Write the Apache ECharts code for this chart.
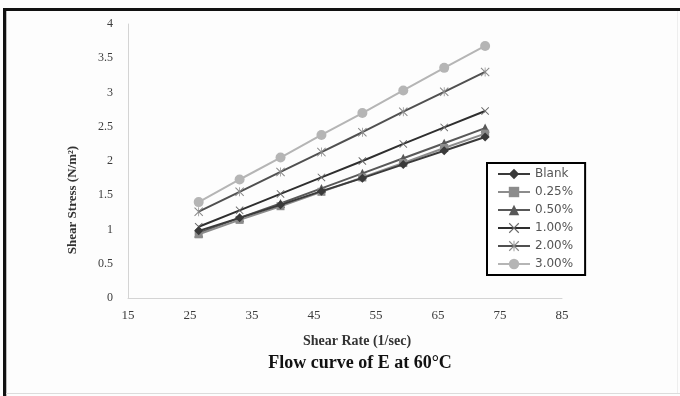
<!DOCTYPE html>
<html><head><meta charset="utf-8">
<script src="https://cdn.jsdelivr.net/npm/echarts@6/dist/echarts.min.js"></script>
<style>html,body{margin:0;padding:0;background:#fdfdfd}#c{width:680px;height:396px}</style>
</head><body><div id="c"></div>
<script>
var shearRate = [26.4, 33.0, 39.6, 46.2, 52.8, 59.4, 66.0, 72.6];
var blank  = [0.98, 1.17, 1.36, 1.56, 1.75, 1.95, 2.15, 2.35];
var p025   = [0.93, 1.14, 1.34, 1.55, 1.76, 1.97, 2.19, 2.40];
var p050   = [0.95, 1.17, 1.38, 1.60, 1.82, 2.04, 2.26, 2.48];
var p100   = [1.04, 1.28, 1.52, 1.76, 2.00, 2.25, 2.49, 2.73];
var p200   = [1.26, 1.55, 1.84, 2.13, 2.42, 2.72, 3.01, 3.30];
var p300   = [1.40, 1.73, 2.05, 2.38, 2.70, 3.03, 3.36, 3.68];
var seriesNames = ['Blank', '0.25%', '0.50%', '1.00%', '2.00%', '3.00%'];
var xTicks = [15, 25, 35, 45, 55, 65, 75, 85];
var yTicks = [0, 0.5, 1, 1.5, 2, 2.5, 3, 3.5, 4];

var xMark = 'path://M0,0.8 L0.8,0 L5,4.2 L9.2,0 L10,0.8 L5.8,5 L10,9.2 L9.2,10 L5,5.8 L0.8,10 L0,9.2 L4.2,5 Z';
var starMark = 'path://M0,0.8 L0.8,0 L5,4.2 L9.2,0 L10,0.8 L5.8,5 L10,9.2 L9.2,10 L5,5.8 L0.8,10 L0,9.2 L4.2,5 Z M4.6,0 L5.4,0 L5.4,10 L4.6,10 Z';

var datasets = [blank, p025, p050, p100, p200, p300];
var colors = ['#3a3a3a', '#8c8c8c', '#585858', '#2e2e2e', '#505050', '#b5b5b5'];
var markColors = ['#3a3a3a', '#8c8c8c', '#585858', '#6a6a6a', '#8a8a8a', '#b5b5b5'];
var symbols = ['diamond', 'rect', 'triangle', xMark, starMark, 'circle'];
var sizes = [9, 8, 9, 8, 9, 10];

function pairs(ys){ return ys.map(function(v,i){ return [shearRate[i], v]; }); }

var series = datasets.map(function(d, i){
  return {
    name: seriesNames[i], type: 'line', data: pairs(d),
    symbol: symbols[i], symbolSize: sizes[i], showSymbol: true,
    lineStyle: {color: colors[i], width: 2},
    itemStyle: {color: markColors[i]},
    z: 2 + (5 - i)
  };
});

var serif = '"Liberation Serif", "Times New Roman", serif';
var chart = echarts.init(document.getElementById('c'), null, {renderer: 'canvas'});
chart.setOption({
  animation: false,
  backgroundColor: '#fdfdfd',
  grid: {left: 128, right: 118, top: 24, bottom: 98, containLabel: false},
  xAxis: {
    type: 'value', min: 15, max: 85, interval: 5,
    axisLine: {show: true, lineStyle: {color: '#d4d4d4', width: 1}},
    axisTick: {show: false}, splitLine: {show: false},
    axisLabel: {
      margin: 11, color: '#3c3c3c', fontFamily: serif, fontSize: 13,
      formatter: function(v){ return xTicks.indexOf(v) >= 0 ? String(v) : ''; }
    }
  },
  yAxis: {
    type: 'value', min: 0, max: 4, interval: 0.5,
    axisLine: {show: true, lineStyle: {color: '#d4d4d4', width: 1}},
    axisTick: {show: false}, splitLine: {show: false},
    axisLabel: {
      margin: 15, color: '#3c3c3c', fontFamily: serif, fontSize: 12,
      formatter: function(v){ return yTicks.indexOf(v) >= 0 ? String(v) : ''; }
    }
  },
  legend: {
    orient: 'vertical', left: 487, top: 163,
    data: seriesNames,
    backgroundColor: '#ffffff', borderColor: '#000', borderWidth: 2,
    padding: [5, 12, 5, 10], itemGap: 6, itemWidth: 32, itemHeight: 13,
    textStyle: {fontFamily: '"DejaVu Sans", sans-serif', fontSize: 12, color: '#555'}
  },
  series: series,
  graphic: [
    {type: 'rect', shape: {x: 3, y: 8, width: 677, height: 3}, style: {fill: '#111'}, silent: true},
    {type: 'rect', shape: {x: 3, y: 8, width: 3, height: 388}, style: {fill: '#111'}, silent: true},
    {type: 'rect', shape: {x: 6, y: 11, width: 1, height: 385}, style: {fill: '#bbb'}, silent: true},
    {type: 'rect', shape: {x: 6, y: 393, width: 674, height: 1}, style: {fill: '#dcdcdc'}, silent: true},
    {type: 'rect', shape: {x: 677, y: 11, width: 1, height: 382}, style: {fill: '#eeeeee'}, silent: true},
    {type: 'text', x: 73, y: 200, rotation: Math.PI / 2,
      style: {text: 'Shear Stress (N/m²)', font: 'bold 13px ' + serif, fill: '#333', align: 'center', verticalAlign: 'middle'}},
    {type: 'text', x: 357, y: 341,
      style: {text: 'Shear Rate (1/sec)', font: 'bold 14px ' + serif, fill: '#333', align: 'center', verticalAlign: 'middle'}},
    {type: 'text', x: 360, y: 363,
      style: {text: 'Flow curve of E at 60°C', font: 'bold 18px ' + serif, fill: '#111', align: 'center', verticalAlign: 'middle'}}
  ]
});
</script></body></html>
